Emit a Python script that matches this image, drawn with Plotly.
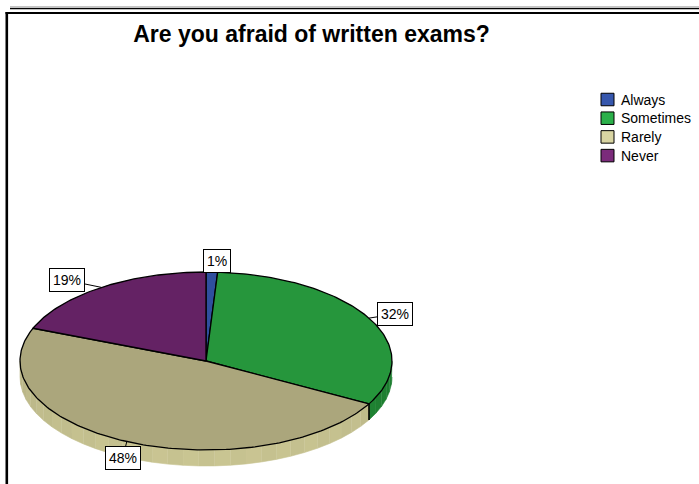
import numpy as np
import plotly.graph_objects as go

# Survey answers: "Are you afraid of written exams?"
categories = ["Always", "Sometimes", "Rarely", "Never"]
percent = [1, 32, 48, 19]
label_text = ["1%", "32%", "48%", "19%"]

top_colors = ["#2f4f9e", "#26963c", "#aba67c", "#642264"]
side_colors = ["#263f80", "#1f8533", "#c6c290", "#531c53"]
legend_colors = ["#3657ad", "#2bb04a", "#d8d4a2", "#7b2b7b"]

# label offsets (pixels) from each slice's rim point
label_dx = [5, 26, -4, -34]
label_dy = [-11, -4, 16, -7]

FONT = "Liberation Sans, Arial, sans-serif"
W, H = 699, 484

# tilted pie geometry, in pixel units of the hidden axes
cx, cy, rx, ry, depth = 206, 361, 186, 89, 16

# legend block placement
LEG_X, LEG_Y0, LEG_STEP, SW_W, SW_H = 601, 99.5, 18.7, 13, 12.5


def ex(t):
    return cx + rx * np.sin(t)


def ey(t):
    return cy - ry * np.cos(t)


def shade(hex_color, f):
    h = hex_color.lstrip("#")
    r, g, b = (int(h[i:i + 2], 16) for i in (0, 2, 4))
    r, g, b = (min(255, int(round(c * f))) for c in (r, g, b))
    return f"#{r:02x}{g:02x}{b:02x}"


fracs = np.array(percent, dtype=float) / sum(percent)
bounds = np.concatenate([[0.0], np.cumsum(fracs)]) * 2 * np.pi

fig = go.Figure()

# side walls (front half of the disc only)
front_a, front_b = np.pi / 2, 3 * np.pi / 2
for i in range(len(percent)):
    a = max(bounds[i], front_a)
    b = min(bounds[i + 1], front_b)
    if b <= a:
        continue
    n = max(1, int(np.ceil((b - a) / np.radians(5))))
    edges = np.linspace(a, b, n + 1)
    for k in range(n):
        t = np.linspace(edges[k], edges[k + 1], 6)
        mid = 0.5 * (edges[k] + edges[k + 1])
        f = 0.93 + 0.07 * np.sin(mid - np.pi / 2) + (0.015 if k % 2 else 0)
        col = shade(side_colors[i], f)
        xs = np.concatenate([ex(t), ex(t[::-1])])
        ys = np.concatenate([ey(t), ey(t[::-1]) + depth])
        fig.add_trace(go.Scatter(
            x=xs, y=ys, fill="toself", fillcolor=col, mode="lines",
            line=dict(color=col, width=0.6), hoverinfo="skip", showlegend=False))

# vertical edges where slice boundaries meet the wall
for t0 in bounds[1:-1]:
    if front_a < t0 < front_b:
        fig.add_trace(go.Scatter(
            x=[ex(t0), ex(t0)], y=[ey(t0), ey(t0) + depth], mode="lines",
            line=dict(color="black", width=1.6), hoverinfo="skip", showlegend=False))

# top faces of the slices
for i in range(len(percent)):
    t = np.linspace(bounds[i], bounds[i + 1], max(3, int(np.degrees(bounds[i + 1] - bounds[i])) + 2))
    xs = np.concatenate([[cx], ex(t), [cx]])
    ys = np.concatenate([[cy], ey(t), [cy]])
    fig.add_trace(go.Scatter(
        x=xs, y=ys, fill="toself", fillcolor=top_colors[i], mode="lines",
        line=dict(color="black", width=1.3), name=categories[i],
        hoverinfo="name", showlegend=False))

# value labels with leader lines
annotations = []
for i, txt in enumerate(label_text):
    mid = 0.5 * (bounds[i] + bounds[i + 1])
    annotations.append(dict(
        x=ex(mid), y=ey(mid), xref="x", yref="y", text=txt,
        showarrow=True, arrowhead=0, arrowwidth=1, arrowcolor="black",
        ax=label_dx[i], ay=label_dy[i], standoff=0,
        bgcolor="white", bordercolor="black", borderwidth=1, borderpad=3,
        font=dict(family=FONT, size=14, color="black")))

# frame decoration
shapes = [
    dict(type="line", x0=10, x1=W, y0=7, y1=7, xref="x", yref="y",
         line=dict(color="#8a8a8a", width=1)),
    dict(type="line", x0=10, x1=W, y0=8.6, y1=8.6, xref="x", yref="y",
         line=dict(color="black", width=1.4)),
    dict(type="line", x0=5.5, x1=W, y0=13, y1=13, xref="x", yref="y",
         line=dict(color="black", width=2.2)),
    dict(type="line", x0=6.8, x1=6.8, y0=12, y1=H, xref="x", yref="y",
         line=dict(color="black", width=2.6)),
]

# legend: swatch + category name
for i, name in enumerate(categories):
    yc = LEG_Y0 + i * LEG_STEP
    shapes.append(dict(
        type="rect", xref="x", yref="y",
        x0=LEG_X, x1=LEG_X + SW_W, y0=yc - SW_H / 2, y1=yc + SW_H / 2,
        fillcolor=legend_colors[i], line=dict(color="black", width=1)))
    annotations.append(dict(
        x=LEG_X + SW_W + 5, y=yc, xref="x", yref="y", text=name,
        showarrow=False, xanchor="left", yanchor="middle",
        font=dict(family=FONT, size=14, color="black")))

fig.update_layout(
    width=W, height=H,
    margin=dict(l=0, r=0, t=0, b=0),
    paper_bgcolor="white", plot_bgcolor="white",
    xaxis=dict(range=[0, W], visible=False, fixedrange=True),
    yaxis=dict(range=[H, 0], visible=False, fixedrange=True),
    title=dict(text="<b>Are you afraid of written exams?</b>",
               x=311.5 / W, xanchor="center", y=1 - 34 / H, yanchor="middle",
               font=dict(family=FONT, size=23, color="black")),
    annotations=annotations,
    shapes=shapes,
    showlegend=False,
)

fig.write_html("out.html")
